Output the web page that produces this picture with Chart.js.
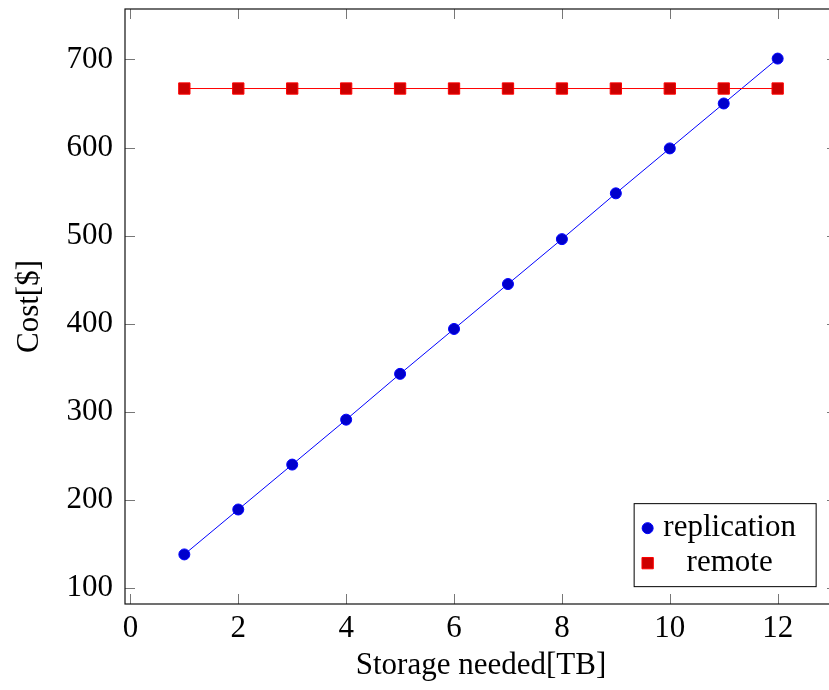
<!DOCTYPE html>
<html>
<head>
<meta charset="utf-8">
<script src="https://cdn.jsdelivr.net/npm/chart.js@4"></script>
<style>
html, body { margin: 0; padding: 0; overflow: hidden; background: #fff; }
#wrap { position: relative; width: 850px; height: 690px; }
</style>
</head>
<body>
<div id="wrap"><canvas id="costChart"></canvas></div>
<script>
// storage sizes and the cost of each option
const storageTB = [1, 2, 3, 4, 5, 6, 7, 8, 9, 10, 11, 12];
const replicationCost = [138, 189, 240, 291, 343, 394, 445, 496, 548, 599, 650, 701];
const remoteCost = [667, 667, 667, 667, 667, 667, 667, 667, 667, 667, 667, 667];
const seriesNames = ['replication', 'remote'];

const xTicks = [0, 2, 4, 6, 8, 10, 12];
const yTicks = [100, 200, 300, 400, 500, 600, 700];

const serif = "'Liberation Serif', 'DejaVu Serif', serif";
const labelFont = { family: serif, size: 31 };

// pad the axis limits by 10% of the data range on each side
function padded(values) {
    const lo = Math.min(...values), hi = Math.max(...values);
    const pad = (hi - lo) * 0.1;
    return [lo - pad, hi + pad];
}
const [xMin, xMax] = padded(storageTB);
const [yMin, yMax] = padded(replicationCost.concat(remoteCost));

// box around the plot with inward tick marks on all four sides
const frame = {
    id: 'frame',
    afterDraw(chart) {
        const { ctx, chartArea: a, scales } = chart;
        ctx.save();
        ctx.strokeStyle = '#777';
        ctx.lineWidth = 1;
        ctx.beginPath();
        xTicks.forEach(v => {
            const px = Math.round(scales.x.getPixelForValue(v)) + 0.5;
            ctx.moveTo(px, a.bottom); ctx.lineTo(px, a.bottom - 10);
            ctx.moveTo(px, a.top); ctx.lineTo(px, a.top + 10);
        });
        yTicks.forEach(v => {
            const py = Math.round(scales.y.getPixelForValue(v)) + 0.5;
            ctx.moveTo(a.left, py); ctx.lineTo(a.left + 10, py);
            ctx.moveTo(a.right, py); ctx.lineTo(a.right - 10, py);
        });
        ctx.stroke();
        ctx.strokeStyle = '#111';
        ctx.lineWidth = 1.2;
        ctx.strokeRect(a.left, a.top, a.right - a.left, a.bottom - a.top);
        ctx.restore();
    }
};

// legend box in the lower right corner of the plot
const cornerLegend = {
    id: 'cornerLegend',
    afterDraw(chart) {
        const { ctx, chartArea: a } = chart;
        const w = 182, h = 83;
        const right = a.right - 0.03 * (a.right - a.left);
        const bottom = a.bottom - 0.03 * (a.bottom - a.top);
        const left = right - w, top = bottom - h;
        ctx.save();
        ctx.fillStyle = '#fff';
        ctx.fillRect(left, top, w, h);
        ctx.strokeStyle = '#000';
        ctx.lineWidth = 1;
        ctx.strokeRect(left + 0.5, top + 0.5, w, h);
        ctx.font = labelFont.size + 'px ' + serif;
        ctx.textAlign = 'center';
        ctx.textBaseline = 'alphabetic';
        chart.data.datasets.forEach((ds, i) => {
            const cy = top + 25 + i * 35;
            ctx.fillStyle = ds.pointBackgroundColor;
            ctx.strokeStyle = ds.pointBorderColor;
            ctx.lineWidth = ds.pointBorderWidth;
            ctx.beginPath();
            if (ds.pointStyle === 'circle') {
                ctx.arc(left + 14, cy, ds.pointRadius, 0, Math.PI * 2);
            } else {
                const s = ds.pointRadius * Math.SQRT1_2;
                ctx.rect(left + 14 - s, cy - s, 2 * s, 2 * s);
            }
            ctx.fill();
            ctx.stroke();
            ctx.fillStyle = '#000';
            ctx.fillText(ds.label, left + 96, cy + 8);
        });
        ctx.restore();
    }
};

new Chart(document.getElementById('costChart'), {
    type: 'line',
    data: {
        datasets: [{
            label: seriesNames[0],
            data: storageTB.map((x, i) => ({ x: x, y: replicationCost[i] })),
            borderColor: '#0000ff',
            borderWidth: 1,
            pointStyle: 'circle',
            pointRadius: 5.5,
            pointBackgroundColor: 'rgb(0,0,204)',
            pointBorderColor: '#0000ff',
            pointBorderWidth: 1,
            tension: 0,
            order: 2
        }, {
            label: seriesNames[1],
            data: storageTB.map((x, i) => ({ x: x, y: remoteCost[i] })),
            borderColor: '#ff0000',
            borderWidth: 1,
            pointStyle: 'rect',
            pointRadius: 8,
            pointBackgroundColor: 'rgb(204,0,0)',
            pointBorderColor: '#ff0000',
            pointBorderWidth: 1,
            tension: 0,
            order: 1
        }]
    },
    options: {
        responsive: true,
        maintainAspectRatio: false,
        animation: false,
        layout: { padding: { top: 7, right: 13, bottom: 0, left: 0 } },
        plugins: {
            legend: { display: false },
            tooltip: { enabled: false }
        },
        scales: {
            x: {
                type: 'linear',
                min: xMin,
                max: xMax,
                afterBuildTicks: s => { s.ticks = xTicks.map(v => ({ value: v })); },
                afterFit: s => { s.height = 86; s.paddingLeft = 0; s.paddingRight = 0; },
                grid: { display: false, drawTicks: false },
                border: { display: false },
                ticks: { font: labelFont, color: '#000', padding: 6, maxRotation: 0, autoSkip: false },
                title: {
                    display: true,
                    text: 'Storage needed[TB]',
                    font: labelFont,
                    color: '#000',
                    padding: { top: 0, bottom: 6 }
                }
            },
            y: {
                type: 'linear',
                min: yMin,
                max: yMax,
                afterBuildTicks: s => { s.ticks = yTicks.map(v => ({ value: v })); },
                afterFit: s => { s.width = 125; s.paddingTop = 0; s.paddingBottom = 0; },
                grid: { display: false, drawTicks: false },
                border: { display: false },
                ticks: { font: labelFont, color: '#000', padding: 12, autoSkip: false },
                title: {
                    display: true,
                    text: 'Cost[$]',
                    font: labelFont,
                    color: '#000',
                    padding: { top: 11, bottom: 0 }
                }
            }
        }
    },
    plugins: [frame, cornerLegend]
});
</script>
</body>
</html>
